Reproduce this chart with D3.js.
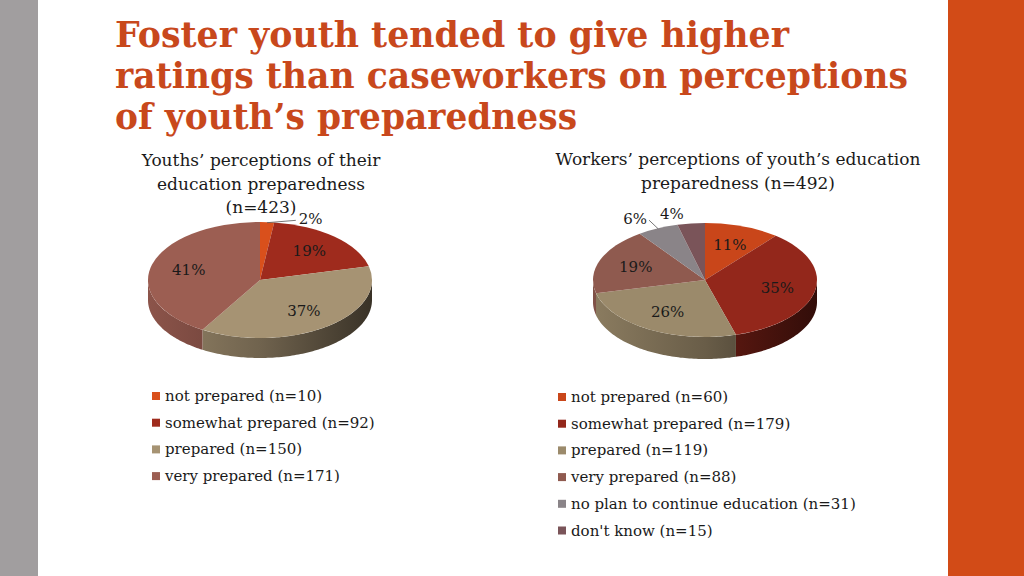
<!DOCTYPE html>
<html>
<head>
<meta charset="utf-8">
<script src="https://cdn.jsdelivr.net/npm/d3@7"></script>
<style>
    body { margin: 0; background: #fff; }
    svg { display: block; font-family: "DejaVu Serif", serif; }
</style>
</head>
<body>
<script>
// data
const youthCategories = ["not prepared", "somewhat prepared", "prepared", "very prepared"]
const youthCounts = [10, 92, 150, 171]
const youthPercents = [2, 19, 37, 41]

const workerCategories = ["not prepared", "somewhat prepared", "prepared", "very prepared",
    "no plan to continue education", "don't know"]
const workerCounts = [60, 179, 119, 88, 31, 15]
const workerPercents = [11, 35, 26, 19, 6, 4]

const titleLines = ["Foster youth tended to give higher",
    "ratings than caseworkers on perceptions",
    "of youth\u2019s preparedness"]
const youthTitle = ["Youths\u2019 perceptions of their", "education preparedness", "(n=423)"]
const workerTitle = ["Workers\u2019 perceptions of youth\u2019s education", "preparedness (n=492)"]

const WIDTH = 1024
const HEIGHT = 576

const youthColors = ["#d9501c", "#9f2b1d", "#a69373", "#9c5e52"]
const workerColors = ["#c9461a", "#93271b", "#9b8a6b", "#8f5a4f", "#8a8488", "#7a5459"]

const svg = d3.select("body")
    .append("svg")
    .attr("width", WIDTH)
    .attr("height", HEIGHT)

const defs = svg.append("defs")

// side bars of the slide
svg.append("rect")
    .attr("x", 0).attr("y", 0)
    .attr("width", 38).attr("height", HEIGHT)
    .attr("fill", "#a19e9f")

svg.append("rect")
    .attr("x", 948).attr("y", 0)
    .attr("width", WIDTH - 948).attr("height", HEIGHT)
    .attr("fill", "#d24b17")

// title
const titleWidths = [674, 793, 462]
svg.append("g")
    .selectAll("text")
    .data(titleLines)
    .enter()
    .append("text")
    .attr("x", 115)
    .attr("y", (d, i) => 47 + i * 41)
    .attr("textLength", (d, i) => titleWidths[i])
    .attr("lengthAdjust", "spacingAndGlyphs")
    .style("font-size", "35px")
    .style("font-weight", "bold")
    .style("fill", "#c8481c")
    .text(d => d)

const addHeading = (lines, cx, y0) => {
    svg.append("g")
        .selectAll("text")
        .data(lines)
        .enter()
        .append("text")
        .attr("x", cx)
        .attr("y", (d, i) => y0 + i * 23.5)
        .attr("text-anchor", "middle")
        .style("font-size", "17px")
        .style("fill", "#1a1a1a")
        .text(d => d)
}

addHeading(youthTitle, 261, 166)
addHeading(workerTitle, 738, 165)

const draw3dPie = (id, values, colors, cx, cy, rx, ry, depth) => {
    const arcs = d3.pie().sort(null).value(d => d)(values)
    const g = svg.append("g").attr("id", id)

    const px = (a, k) => cx + rx * k * Math.sin(a)
    const py = (a, k) => cy - ry * k * Math.cos(a)

    // side gradients, lighter on the left, dark on the right
    colors.forEach((c, i) => {
        const grad = defs.append("linearGradient")
            .attr("id", id + "-side-" + i)
            .attr("gradientUnits", "userSpaceOnUse")
            .attr("x1", cx - rx).attr("x2", cx + rx)
            .attr("y1", 0).attr("y2", 0)
        grad.append("stop").attr("offset", 0).attr("stop-color", d3.color(c).darker(0.3))
        grad.append("stop").attr("offset", 0.5).attr("stop-color", d3.color(c).darker(1.1))
        grad.append("stop").attr("offset", 1).attr("stop-color", d3.color(c).darker(3))
    })

    const line = d3.line()

    // front walls
    arcs.forEach((d, i) => {
        const s = Math.max(d.startAngle, Math.PI / 2)
        const e = Math.min(d.endAngle, Math.PI * 1.5)
        if (e <= s) return
        const steps = d3.range(s, e, 0.02).concat([e])
        const top = steps.map(a => [px(a, 1), py(a, 1)])
        const bottom = steps.slice().reverse().map(a => [px(a, 1), py(a, 1) + depth])
        g.append("path")
            .attr("d", line(top.concat(bottom)) + "Z")
            .attr("fill", "url(#" + id + "-side-" + i + ")")
    })

    // top faces
    const arc = d3.arc().innerRadius(0).outerRadius(rx)
    g.append("g")
        .attr("transform", "translate(" + cx + "," + cy + ") scale(1," + (ry / rx) + ")")
        .selectAll("path")
        .data(arcs)
        .enter()
        .append("path")
        .attr("d", arc)
        .attr("fill", (d, i) => colors[i])

    // labels
    arcs.forEach(d => {
        const mid = (d.startAngle + d.endAngle) / 2
        const label = d.data + "%"
        if (d.data >= 8) {
            g.append("text")
                .attr("x", px(mid, 0.66))
                .attr("y", py(mid, 0.66) + 5)
                .attr("text-anchor", "middle")
                .style("font-size", "15px")
                .style("fill", "#1a1a1a")
                .text(label)
        } else {
            const right = Math.sin(mid) >= 0
            // right-hand small labels sit just past the heading above
            const lx = px(mid, 1.1) + (right ? 31 : -6)
            const ly = py(mid, 1.1) + (right ? 8 : 1)
            if (d.index !== arcs.length - 1) {
                g.append("line")
                    .attr("x1", px(mid, 0.99)).attr("y1", py(mid, 0.99))
                    .attr("x2", right ? lx - 3 : lx + 2).attr("y2", ly - 4)
                    .attr("stroke", "#555")
                    .attr("stroke-width", 0.8)
            }
            g.append("text")
                .attr("x", lx)
                .attr("y", ly)
                .attr("text-anchor", right ? "start" : "end")
                .style("font-size", "15px")
                .style("fill", "#1a1a1a")
                .text(label)
        }
    })
}

draw3dPie("youth-pie", youthPercents, youthColors, 260, 280, 112, 58, 20)
draw3dPie("worker-pie", workerPercents, workerColors, 705, 280, 112, 57, 22)

const drawLegend = (categories, counts, colors, x, y0) => {
    const yScale = d3.scaleLinear().domain([0, 1]).range([y0, y0 + 26.7])
    const rows = svg.append("g")
        .selectAll("g")
        .data(categories)
        .enter()
        .append("g")
        .attr("transform", (d, i) => "translate(" + x + "," + yScale(i) + ")")
    rows.append("rect")
        .attr("x", 0).attr("y", -4)
        .attr("width", 8).attr("height", 8)
        .attr("fill", (d, i) => colors[i])
    rows.append("text")
        .attr("x", 13)
        .attr("y", 5)
        .style("font-size", "15px")
        .style("fill", "#1a1a1a")
        .text((d, i) => d + " (n=" + counts[i] + ")")
}

drawLegend(youthCategories, youthCounts, youthColors, 152, 396)
drawLegend(workerCategories, workerCounts, workerColors, 558, 397)
</script>
</body>
</html>
